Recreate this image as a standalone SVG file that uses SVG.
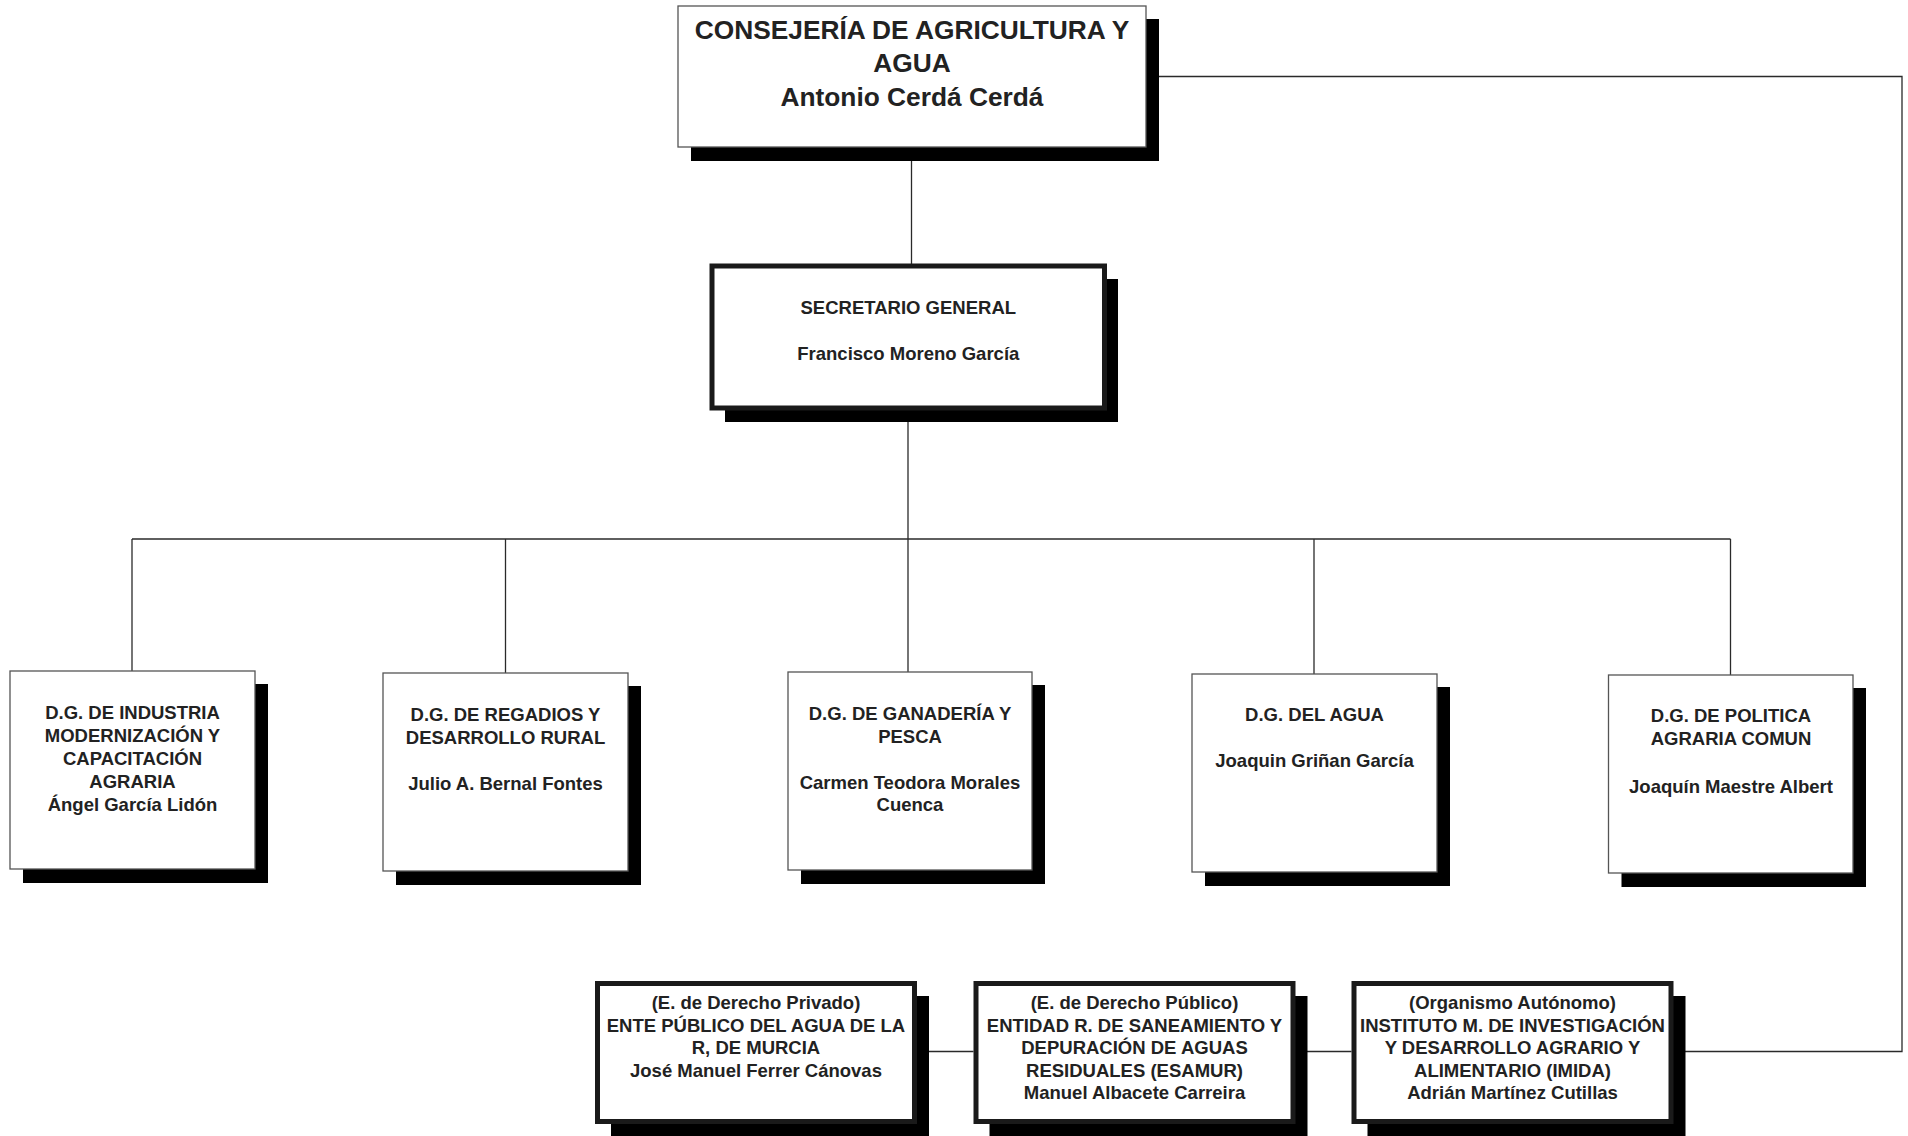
<svg xmlns="http://www.w3.org/2000/svg" width="1908" height="1136" viewBox="0 0 1908 1136">
<style>
.bg{fill:#fff}
.sh{fill:#000}
.thin{fill:#fff;stroke:#555;stroke-width:1.3}
.thick{fill:#fff;stroke:#1a1a1a;stroke-width:5}
.ln{fill:none;stroke:#2a2a2a;stroke-width:1.3}
text{font-family:"Liberation Sans",Arial,sans-serif;font-weight:bold;fill:#222;text-anchor:middle}
.big{font-size:26.3px}
.sm{font-size:18.5px}
</style>
<rect class="bg" x="0" y="0" width="1908" height="1136"/>
<g id="connectors">
<line class="ln" x1="911.5" y1="147" x2="911.5" y2="264"/>
<line class="ln" x1="908" y1="410" x2="908" y2="672"/>
<line class="ln" x1="132" y1="539" x2="1730.5" y2="539"/>
<line class="ln" x1="132" y1="539" x2="132" y2="671"/>
<line class="ln" x1="505.5" y1="539" x2="505.5" y2="673"/>
<line class="ln" x1="1314" y1="539" x2="1314" y2="674"/>
<line class="ln" x1="1730.5" y1="539" x2="1730.5" y2="675"/>
<polyline class="ln" points="1146,76.5 1902,76.5 1902,1051.5 1673.5,1051.5"/>
<line class="ln" x1="917" y1="1051.5" x2="973.5" y2="1051.5"/>
<line class="ln" x1="1295.5" y1="1051.5" x2="1351.5" y2="1051.5"/>
</g>
<g id="consejeria">
<rect class="sh" x="691" y="19" width="468" height="142"/>
<rect class="thin" x="678" y="6" width="468" height="141"/>
<text class="big" x="912" y="39">CONSEJERÍA DE AGRICULTURA Y</text>
<text class="big" x="912" y="72">AGUA</text>
<text class="big" x="912" y="106">Antonio Cerdá Cerdá</text>
</g>
<g id="secretario">
<rect class="sh" x="725" y="279" width="393" height="143"/>
<rect class="thick" x="712" y="266" width="392.5" height="142"/>
<text class="sm" x="908.3" y="314">SECRETARIO GENERAL</text>
<text class="sm" x="908.3" y="360">Francisco Moreno García</text>
</g>
<g id="dg-industria">
<rect class="sh" x="23" y="684" width="245" height="199"/>
<rect class="thin" x="10" y="671" width="245" height="198"/>
<text class="sm" x="132.5" y="718.5">D.G. DE INDUSTRIA</text>
<text class="sm" x="132.5" y="741.5">MODERNIZACIÓN Y</text>
<text class="sm" x="132.5" y="764.5">CAPACITACIÓN</text>
<text class="sm" x="132.5" y="787.5">AGRARIA</text>
<text class="sm" x="132.5" y="810.5">Ángel García Lidón</text>
</g>
<g id="dg-regadios">
<rect class="sh" x="396" y="686" width="245" height="199"/>
<rect class="thin" x="383" y="673" width="245" height="198"/>
<text class="sm" x="505.5" y="721">D.G. DE REGADIOS Y</text>
<text class="sm" x="505.5" y="744">DESARROLLO RURAL</text>
<text class="sm" x="505.5" y="790">Julio A. Bernal Fontes</text>
</g>
<g id="dg-ganaderia">
<rect class="sh" x="801" y="685" width="244" height="199"/>
<rect class="thin" x="788" y="672" width="244" height="198"/>
<text class="sm" x="910" y="720">D.G. DE GANADERÍA Y</text>
<text class="sm" x="910" y="743">PESCA</text>
<text class="sm" x="910" y="789">Carmen Teodora Morales</text>
<text class="sm" x="910" y="811">Cuenca</text>
</g>
<g id="dg-agua">
<rect class="sh" x="1205" y="687" width="245" height="199"/>
<rect class="thin" x="1192" y="674" width="245" height="198"/>
<text class="sm" x="1314.5" y="721">D.G. DEL AGUA</text>
<text class="sm" x="1314.5" y="767">Joaquin Griñan García</text>
</g>
<g id="dg-pac">
<rect class="sh" x="1621.5" y="688" width="244.5" height="199"/>
<rect class="thin" x="1608.5" y="675" width="244.5" height="198"/>
<text class="sm" x="1731" y="722">D.G. DE POLITICA</text>
<text class="sm" x="1731" y="745">AGRARIA COMUN</text>
<text class="sm" x="1731" y="792.5">Joaquín Maestre Albert</text>
</g>
<g id="ente-publico-agua">
<rect class="sh" x="611" y="996" width="318" height="140"/>
<rect class="thick" x="597.5" y="983.5" width="317" height="138"/>
<text class="sm" x="756" y="1009">(E. de Derecho Privado)</text>
<text class="sm" x="756" y="1031.6">ENTE PÚBLICO DEL AGUA DE LA</text>
<text class="sm" x="756" y="1054.2">R, DE MURCIA</text>
<text class="sm" x="756" y="1076.8">José Manuel Ferrer Cánovas</text>
</g>
<g id="esamur">
<rect class="sh" x="989.5" y="996" width="318" height="140"/>
<rect class="thick" x="976" y="983.5" width="317" height="138"/>
<text class="sm" x="1134.5" y="1009">(E. de Derecho Público)</text>
<text class="sm" x="1134.5" y="1031.6">ENTIDAD R. DE SANEAMIENTO Y</text>
<text class="sm" x="1134.5" y="1054.2">DEPURACIÓN DE AGUAS</text>
<text class="sm" x="1134.5" y="1076.8">RESIDUALES (ESAMUR)</text>
<text class="sm" x="1134.5" y="1099.4">Manuel Albacete Carreira</text>
</g>
<g id="imida">
<rect class="sh" x="1367.5" y="996" width="318" height="140"/>
<rect class="thick" x="1354" y="983.5" width="317" height="138"/>
<text class="sm" x="1512.5" y="1009">(Organismo Autónomo)</text>
<text class="sm" x="1512.5" y="1031.6">INSTITUTO M. DE INVESTIGACIÓN</text>
<text class="sm" x="1512.5" y="1054.2">Y DESARROLLO AGRARIO Y</text>
<text class="sm" x="1512.5" y="1076.8">ALIMENTARIO (IMIDA)</text>
<text class="sm" x="1512.5" y="1099.4">Adrián Martínez Cutillas</text>
</g>
</svg>
